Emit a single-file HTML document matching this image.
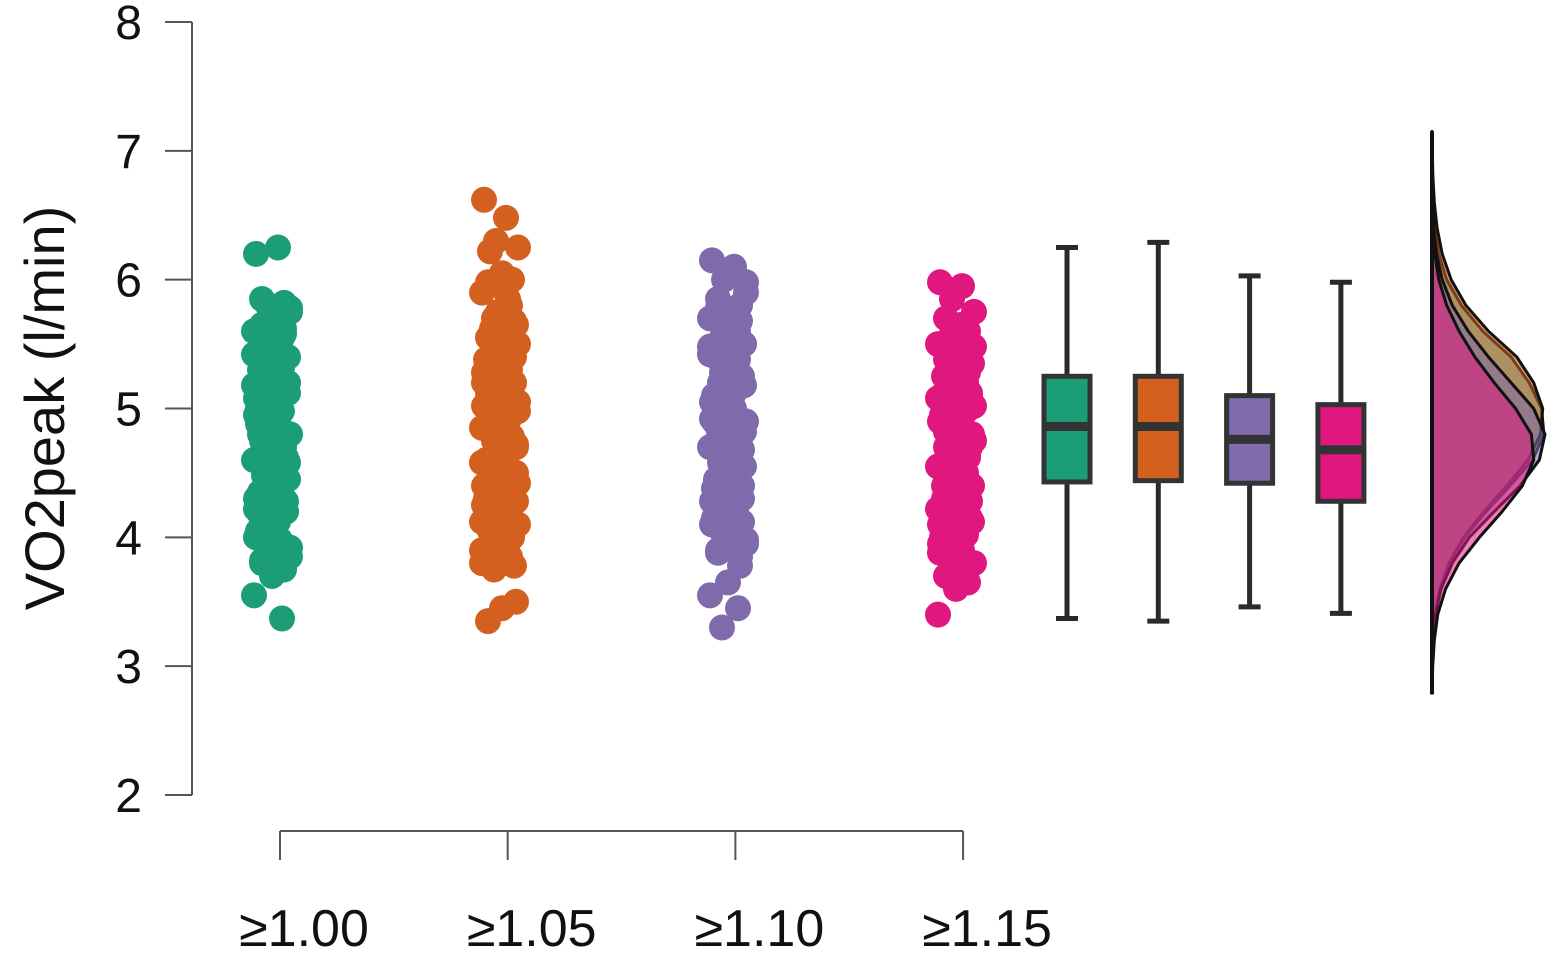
<!DOCTYPE html>
<html><head><meta charset="utf-8"><style>
html,body{margin:0;padding:0;background:#fff}
svg{display:block}
text{font-family:"Liberation Sans",sans-serif;fill:#111}
</style></head><body>
<svg id="chart" width="1560" height="961" viewBox="0 0 1560 961">
<g id="axes"></g>
<g id="dots"></g>
<g id="boxes"></g>
<g id="dens"></g>
<text x="0" y="0" transform="translate(64,408) rotate(-90)" text-anchor="middle" font-size="56">VO2peak (l/min)</text>
</svg>
<script>
const categories=["≥1.00","≥1.05","≥1.10","≥1.15"];
const colors=["#1b9e77","#d4601f","#7f6aab","#e0177f"];
const yTicks=[2,3,4,5,6,7,8];
const jitter=[-0.8,0.3,-0.2,0.9,-0.5,0.6,0,-0.9,0.5,-0.3,0.8,0.1,-0.6,0.4,-0.1,0.7,-0.4,0.2,-0.7];
const g1=[6.20,6.25,5.80,5.78,5.85,5.82,5.70,5.60,5.55,5.45,5.40,5.35,5.30,5.25,5.20,5.15,5.10,5.05,5.00,4.95,4.90,4.85,4.80,4.75,4.70,4.65,4.60,4.55,4.50,4.45,4.40,4.35,4.30,4.25,4.20,4.15,4.10,4.05,4.00,3.95,3.90,3.85,3.80,3.75,3.70,3.55,3.37,5.5,5.2,5.0,4.8,4.6,4.4,4.2,4.9,4.7,5.1,4.3,3.9,5.3,5.75,5.65,5.58,5.48,5.42,5.32,5.22,5.12,5.02,4.92,4.82,4.72,4.62,4.52,4.42,4.32,4.22,4.12,4.02,3.92,3.82,5.62,5.38,5.18,4.98,4.78,4.58,4.38,4.18,3.98,4.08,4.28,4.48,4.68,4.88,5.08,5.28,5.48];
const g2=[6.62,6.48,6.30,6.25,6.22,6.00,5.95,5.90,5.80,5.70,5.65,5.60,5.55,5.50,5.45,5.40,5.35,5.30,5.25,5.20,5.15,5.10,5.05,5.00,4.95,4.90,4.85,4.80,4.75,4.70,4.65,4.60,4.55,4.50,4.45,4.40,4.35,4.30,4.25,4.20,4.15,4.10,4.05,4.00,3.95,3.90,3.85,3.75,3.50,3.45,3.35,5.6,5.4,5.2,5.0,4.8,4.6,4.4,4.2,4.0,5.5,5.1,4.7,4.3,3.8,5.3,4.9,4.5,6.05,5.98,5.85,5.75,5.68,5.58,5.48,5.38,5.28,5.18,5.08,4.98,4.88,4.78,4.68,4.58,4.48,4.38,4.28,4.18,4.08,3.98,3.88,3.78,5.62,5.42,5.22,5.02,4.82,4.62,4.42,4.22,4.02,3.92,4.12,4.32,4.52,4.72,4.92,5.12,5.32,5.52];
const g3=[6.15,6.10,6.00,5.98,5.85,5.80,5.75,5.70,5.60,5.55,5.50,5.45,5.40,5.35,5.30,5.25,5.20,5.15,5.10,5.05,5.00,4.95,4.90,4.85,4.80,4.75,4.70,4.65,4.60,4.55,4.50,4.45,4.40,4.35,4.30,4.25,4.20,4.15,4.10,4.05,4.00,3.95,3.90,3.85,3.65,3.55,3.45,3.30,5.5,5.2,5.0,4.8,4.6,4.4,4.2,4.0,4.9,4.7,4.3,5.1,5.90,5.78,5.68,5.58,5.48,5.38,5.28,5.18,5.08,4.98,4.88,4.78,4.68,4.58,4.48,4.38,4.28,4.18,4.08,3.98,3.88,3.78,5.62,5.42,5.22,5.02,4.82,4.62,4.42,4.22,4.02,4.12,4.32,4.52,4.72,4.92,5.12,5.32];
const g4=[5.98,5.95,5.85,5.75,5.70,5.60,5.55,5.50,5.45,5.40,5.35,5.30,5.25,5.20,5.15,5.10,5.05,5.00,4.95,4.90,4.85,4.80,4.75,4.70,4.65,4.60,4.55,4.50,4.45,4.40,4.35,4.30,4.25,4.20,4.15,4.10,4.05,4.00,3.95,3.90,3.85,3.80,3.70,3.65,3.60,3.40,5.2,5.0,4.8,4.6,4.4,4.2,4.9,4.7,4.5,4.3,5.1,4.1,5.65,5.58,5.48,5.38,5.28,5.18,5.08,4.98,4.88,4.78,4.68,4.58,4.48,4.38,4.28,4.18,4.08,3.98,3.88,5.42,5.22,5.02,4.82,4.62,4.42,4.22,4.02,3.92,4.12,4.32,4.52,4.72,4.92,5.12,5.32,3.75];
const groups=[g1,g2,g3,g4];
const boxMin=[3.37,3.35,3.46,3.41];
const boxQ1=[4.43,4.44,4.42,4.28];
const boxMed=[4.86,4.86,4.76,4.68];
const boxQ3=[5.25,5.25,5.10,5.03];
const boxMax=[6.25,6.29,6.03,5.98];
const densGrid=[2.8,3.0,3.2,3.4,3.6,3.8,4.0,4.2,4.4,4.6,4.8,5.0,5.2,5.4,5.6,5.8,6.0,6.2,6.4,6.6,6.8,7.0,7.15];
const dens1=[0.001,0.003,0.01,0.028,0.07,0.15,0.29,0.48,0.69,0.89,0.99,0.97,0.86,0.70,0.45,0.26,0.13,0.06,0.025,0.01,0.004,0.002,0];
const dens2=[0.001,0.003,0.01,0.03,0.07,0.15,0.28,0.46,0.66,0.85,0.96,0.98,0.90,0.75,0.50,0.30,0.17,0.09,0.045,0.02,0.008,0.003,0];
const dens3=[0,0.002,0.008,0.03,0.08,0.18,0.33,0.55,0.78,0.95,1.0,0.9,0.7,0.5,0.32,0.18,0.09,0.04,0.015,0.005,0.002,0.001,0];
const dens4=[0.002,0.006,0.02,0.05,0.12,0.24,0.42,0.62,0.80,0.90,0.88,0.74,0.55,0.38,0.24,0.13,0.06,0.025,0.01,0.003,0.001,0,0];
const densAll=[dens1,dens2,dens3,dens4];

const NS="http://www.w3.org/2000/svg";
const y=v=>795-(v-2)*128.83;
const xCat=i=>280+i*227.7;
const xDot=i=>272+i*228;
const xBox=i=>1067+i*91.3;
const xDens=d=>1432+d*113;
function mk(tag,attrs,parent){const e=document.createElementNS(NS,tag);for(const k in attrs)e.setAttribute(k,attrs[k]);parent.appendChild(e);return e;}
const axes=document.getElementById('axes');
let l=mk('line',{x1:192,y1:y(8),x2:192,y2:y(2),stroke:'#555','stroke-width':2},axes);


yTicks.forEach(t=>{
  const tk=mk('line',{x1:165,y1:y(t),x2:192,y2:y(t),stroke:'#555','stroke-width':2},axes);
  
  
  const tx=mk('text',{x:142,y:y(t)+17,'text-anchor':'end','font-size':48},axes);
  tx.textContent=t;
  
  
});
l=mk('line',{x1:xCat(0),y1:831,x2:xCat(3),y2:831,stroke:'#555','stroke-width':2},axes);


categories.forEach((c,i)=>{
  const tk=mk('line',{x1:xCat(i),y1:831,x2:xCat(i),y2:860,stroke:'#555','stroke-width':2},axes);
  
  
  const tx=mk('text',{x:xCat(i)+24,y:946,'text-anchor':'middle','font-size':52},axes);
  tx.textContent=c;
  
  
});
const dots=document.getElementById('dots');
groups.forEach((g,i)=>{
  g.forEach((v,k)=>{
    const c=mk('circle',{cx:xDot(i)+jitter[k%jitter.length]*20,cy:y(v),r:13,fill:colors[i]},dots);
    
    
  });
});
const boxes=document.getElementById('boxes');
categories.forEach((c,i)=>{
  const cx=xBox(i),g=mk('g',{},boxes);
  
  
  mk('line',{x1:cx,y1:y(boxMax[i]),x2:cx,y2:y(boxMin[i]),stroke:'#2a2a2a','stroke-width':5},g);
  mk('line',{x1:cx-11,y1:y(boxMax[i]),x2:cx+11,y2:y(boxMax[i]),stroke:'#2a2a2a','stroke-width':5},g);
  mk('line',{x1:cx-11,y1:y(boxMin[i]),x2:cx+11,y2:y(boxMin[i]),stroke:'#2a2a2a','stroke-width':5},g);
  mk('rect',{x:cx-23,y:y(boxQ3[i]),width:46,height:y(boxQ1[i])-y(boxQ3[i]),fill:colors[i],stroke:'#333','stroke-width':5},g);
  mk('line',{x1:cx-23,y1:y(boxMed[i]),x2:cx+23,y2:y(boxMed[i]),stroke:'#333','stroke-width':9},g);
});
const dens=document.getElementById('dens');
densAll.forEach((d,i)=>{
  let p='M1432,'+y(densGrid[0]);
  d.forEach((v,k)=>{p+=' L'+xDens(v).toFixed(1)+','+y(densGrid[k]).toFixed(1);});
  p+=' L1432,'+y(densGrid[densGrid.length-1])+' Z';
  const e=mk('path',{d:p,fill:colors[i],'fill-opacity':0.55,stroke:'#111','stroke-width':3,'stroke-linejoin':'round'},dens);
  
  
});
l=mk('line',{x1:1432,y1:y(2.78),x2:1432,y2:y(7.15),stroke:'#111','stroke-width':4},dens);


</script>
</body></html>
